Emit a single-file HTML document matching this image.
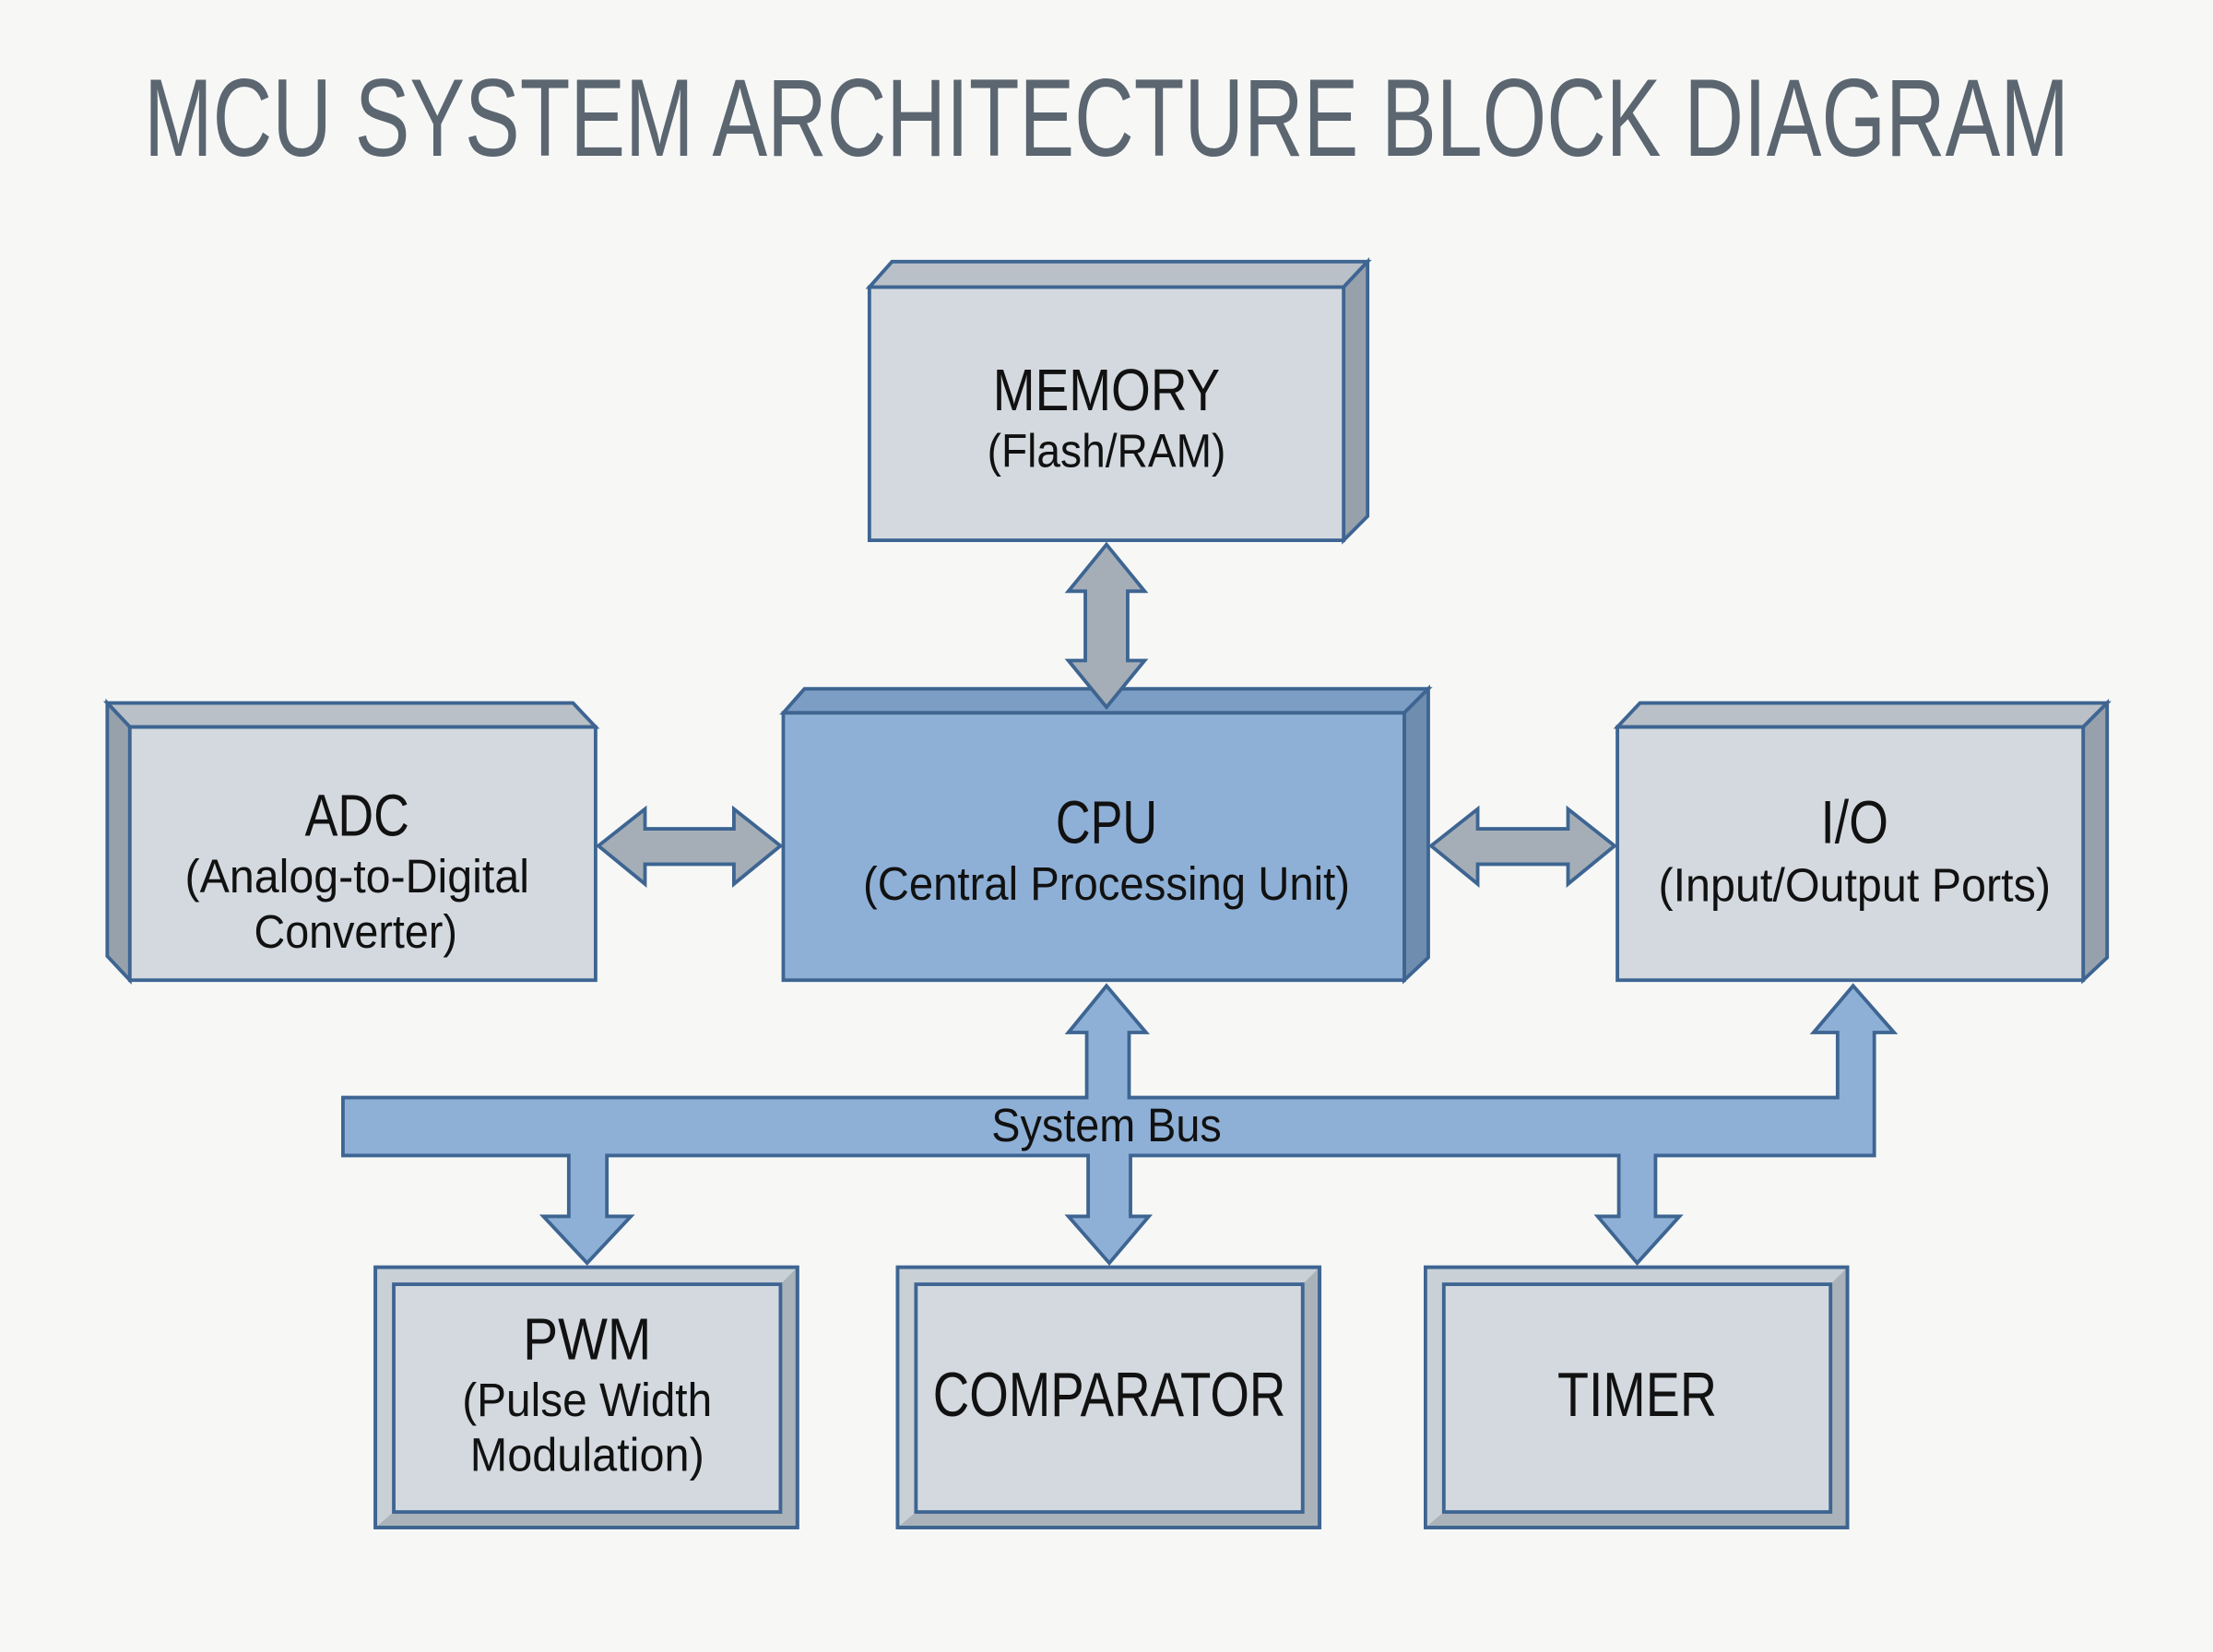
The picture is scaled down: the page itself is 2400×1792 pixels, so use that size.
<!DOCTYPE html>
<html><head><meta charset="utf-8"><style>
html,body{margin:0;padding:0;background:#f7f8f6;}
svg{display:block;}
text{font-family:"Liberation Sans",sans-serif;fill:#111;text-anchor:middle;}
</style></head><body>
<svg width="2400" height="1792" viewBox="0 0 1568 1168" preserveAspectRatio="none" xmlns="http://www.w3.org/2000/svg">
<rect width="1568" height="1168" fill="#f7f8f6"/>
<text x="784" y="110" font-size="78" style="fill:#5b6671" textLength="1364" lengthAdjust="spacingAndGlyphs">MCU SYSTEM ARCHITECTURE BLOCK DIAGRAM</text>

<g stroke="#3e6592" stroke-width="2.5" stroke-linejoin="miter">
<!-- MEMORY -->
<polygon points="616,203 632,185 969,185 952,203" fill="#b9c0c7"/>
<polygon points="952,203 969,185 969,365 952,382" fill="#97a1ab"/>
<rect x="616" y="203" width="336" height="179" fill="#d3d9df"/>
<!-- CPU -->
<polygon points="555,504 570,487 1012,487 995,504" fill="#7c9dc4"/>
<polygon points="995,504 1012,487 1012,677 995,693" fill="#6f8daf"/>
<rect x="555" y="504" width="440" height="189" fill="#8eb0d6"/>
<!-- ADC -->
<polygon points="76,497 406,497 422,514 92,514" fill="#b9c0c7"/>
<polygon points="76,497 92,514 92,693 76,676" fill="#97a1ab"/>
<rect x="92" y="514" width="330" height="179" fill="#d3d9df"/>
<!-- IO -->
<polygon points="1146,514 1162,497 1493,497 1476,514" fill="#b9c0c7"/>
<polygon points="1476,514 1493,497 1493,677 1476,693" fill="#97a1ab"/>
<rect x="1146" y="514" width="330" height="179" fill="#d3d9df"/>

<!-- grey arrows -->
<polygon points="784,385 811,418 799,418 799,467 811,467 784,500 757,467 769,467 769,418 757,418" fill="#a5aeb7"/>
<polygon points="424,598 457,572 457,586 520,586 520,572 553,598 520,625 520,611 457,611 457,625" fill="#a5aeb7"/>
<polygon points="1014,598 1047,572 1047,586 1111,586 1111,572 1144,598 1111,625 1111,611 1047,611 1047,625" fill="#a5aeb7"/>

<!-- bus -->
<polygon points="243,776 770,776 770,730 757,730 784,697 812,730 800,730 800,776 1302,776 1302,730 1285,730 1313,697 1342,730 1328,730 1328,817 1173,817 1173,860 1190,860 1160,893 1132,860 1147,860 1147,817 801,817 801,860 814,860 786,893 757,860 771,860 771,817 430,817 430,860 447,860 416,893 385,860 403,860 403,817 243,817" fill="#8eb0d6"/>

<!-- bottom boxes -->
<g>
<rect x="266" y="896" width="299" height="184" fill="#aab2ba"/>
<polygon points="266,896 565,896 553,908 279,908 279,1069 266,1080" fill="#c9d0d6" stroke="none"/>
<rect x="279" y="908" width="274" height="161" fill="#d3d9df"/>
<rect x="636" y="896" width="299" height="184" fill="#aab2ba"/>
<polygon points="636,896 935,896 923,908 649,908 649,1069 636,1080" fill="#c9d0d6" stroke="none"/>
<rect x="649" y="908" width="274" height="161" fill="#d3d9df"/>
<rect x="1010" y="896" width="299" height="184" fill="#aab2ba"/>
<polygon points="1010,896 1309,896 1297,908 1023,908 1023,1069 1010,1080" fill="#c9d0d6" stroke="none"/>
<rect x="1023" y="908" width="274" height="161" fill="#d3d9df"/>
<rect x="266" y="896" width="299" height="184" fill="none"/>
<rect x="636" y="896" width="299" height="184" fill="none"/>
<rect x="1010" y="896" width="299" height="184" fill="none"/>
</g>
</g>

<text x="784" y="290" font-size="42" textLength="161" lengthAdjust="spacingAndGlyphs">MEMORY</text>
<text x="784" y="330" font-size="33" textLength="169" lengthAdjust="spacingAndGlyphs">(Flash/RAM)</text>
<text x="253" y="591" font-size="42" textLength="74" lengthAdjust="spacingAndGlyphs">ADC</text>
<text x="253" y="631" font-size="33" textLength="244" lengthAdjust="spacingAndGlyphs">(Analog-to-Digital</text>
<text x="252" y="670" font-size="33" textLength="144" lengthAdjust="spacingAndGlyphs">Converter)</text>
<text x="784" y="596" font-size="43" textLength="72" lengthAdjust="spacingAndGlyphs">CPU</text>
<text x="784" y="636" font-size="33" textLength="345" lengthAdjust="spacingAndGlyphs">(Central Processing Unit)</text>
<text x="1314" y="596" font-size="43" textLength="48" lengthAdjust="spacingAndGlyphs">I/O</text>
<text x="1314" y="637" font-size="33" textLength="278" lengthAdjust="spacingAndGlyphs">(Input/Output Ports)</text>
<text x="784" y="807" font-size="33" textLength="163" lengthAdjust="spacingAndGlyphs">System Bus</text>
<text x="416" y="961" font-size="42" textLength="91" lengthAdjust="spacingAndGlyphs">PWM</text>
<text x="416" y="1001" font-size="33" textLength="177" lengthAdjust="spacingAndGlyphs">(Pulse Width</text>
<text x="416" y="1040" font-size="33" textLength="166" lengthAdjust="spacingAndGlyphs">Modulation)</text>
<text x="786" y="1001" font-size="44" textLength="250" lengthAdjust="spacingAndGlyphs">COMPARATOR</text>
<text x="1160" y="1001" font-size="44" textLength="113" lengthAdjust="spacingAndGlyphs">TIMER</text>
</svg>
</body></html>
